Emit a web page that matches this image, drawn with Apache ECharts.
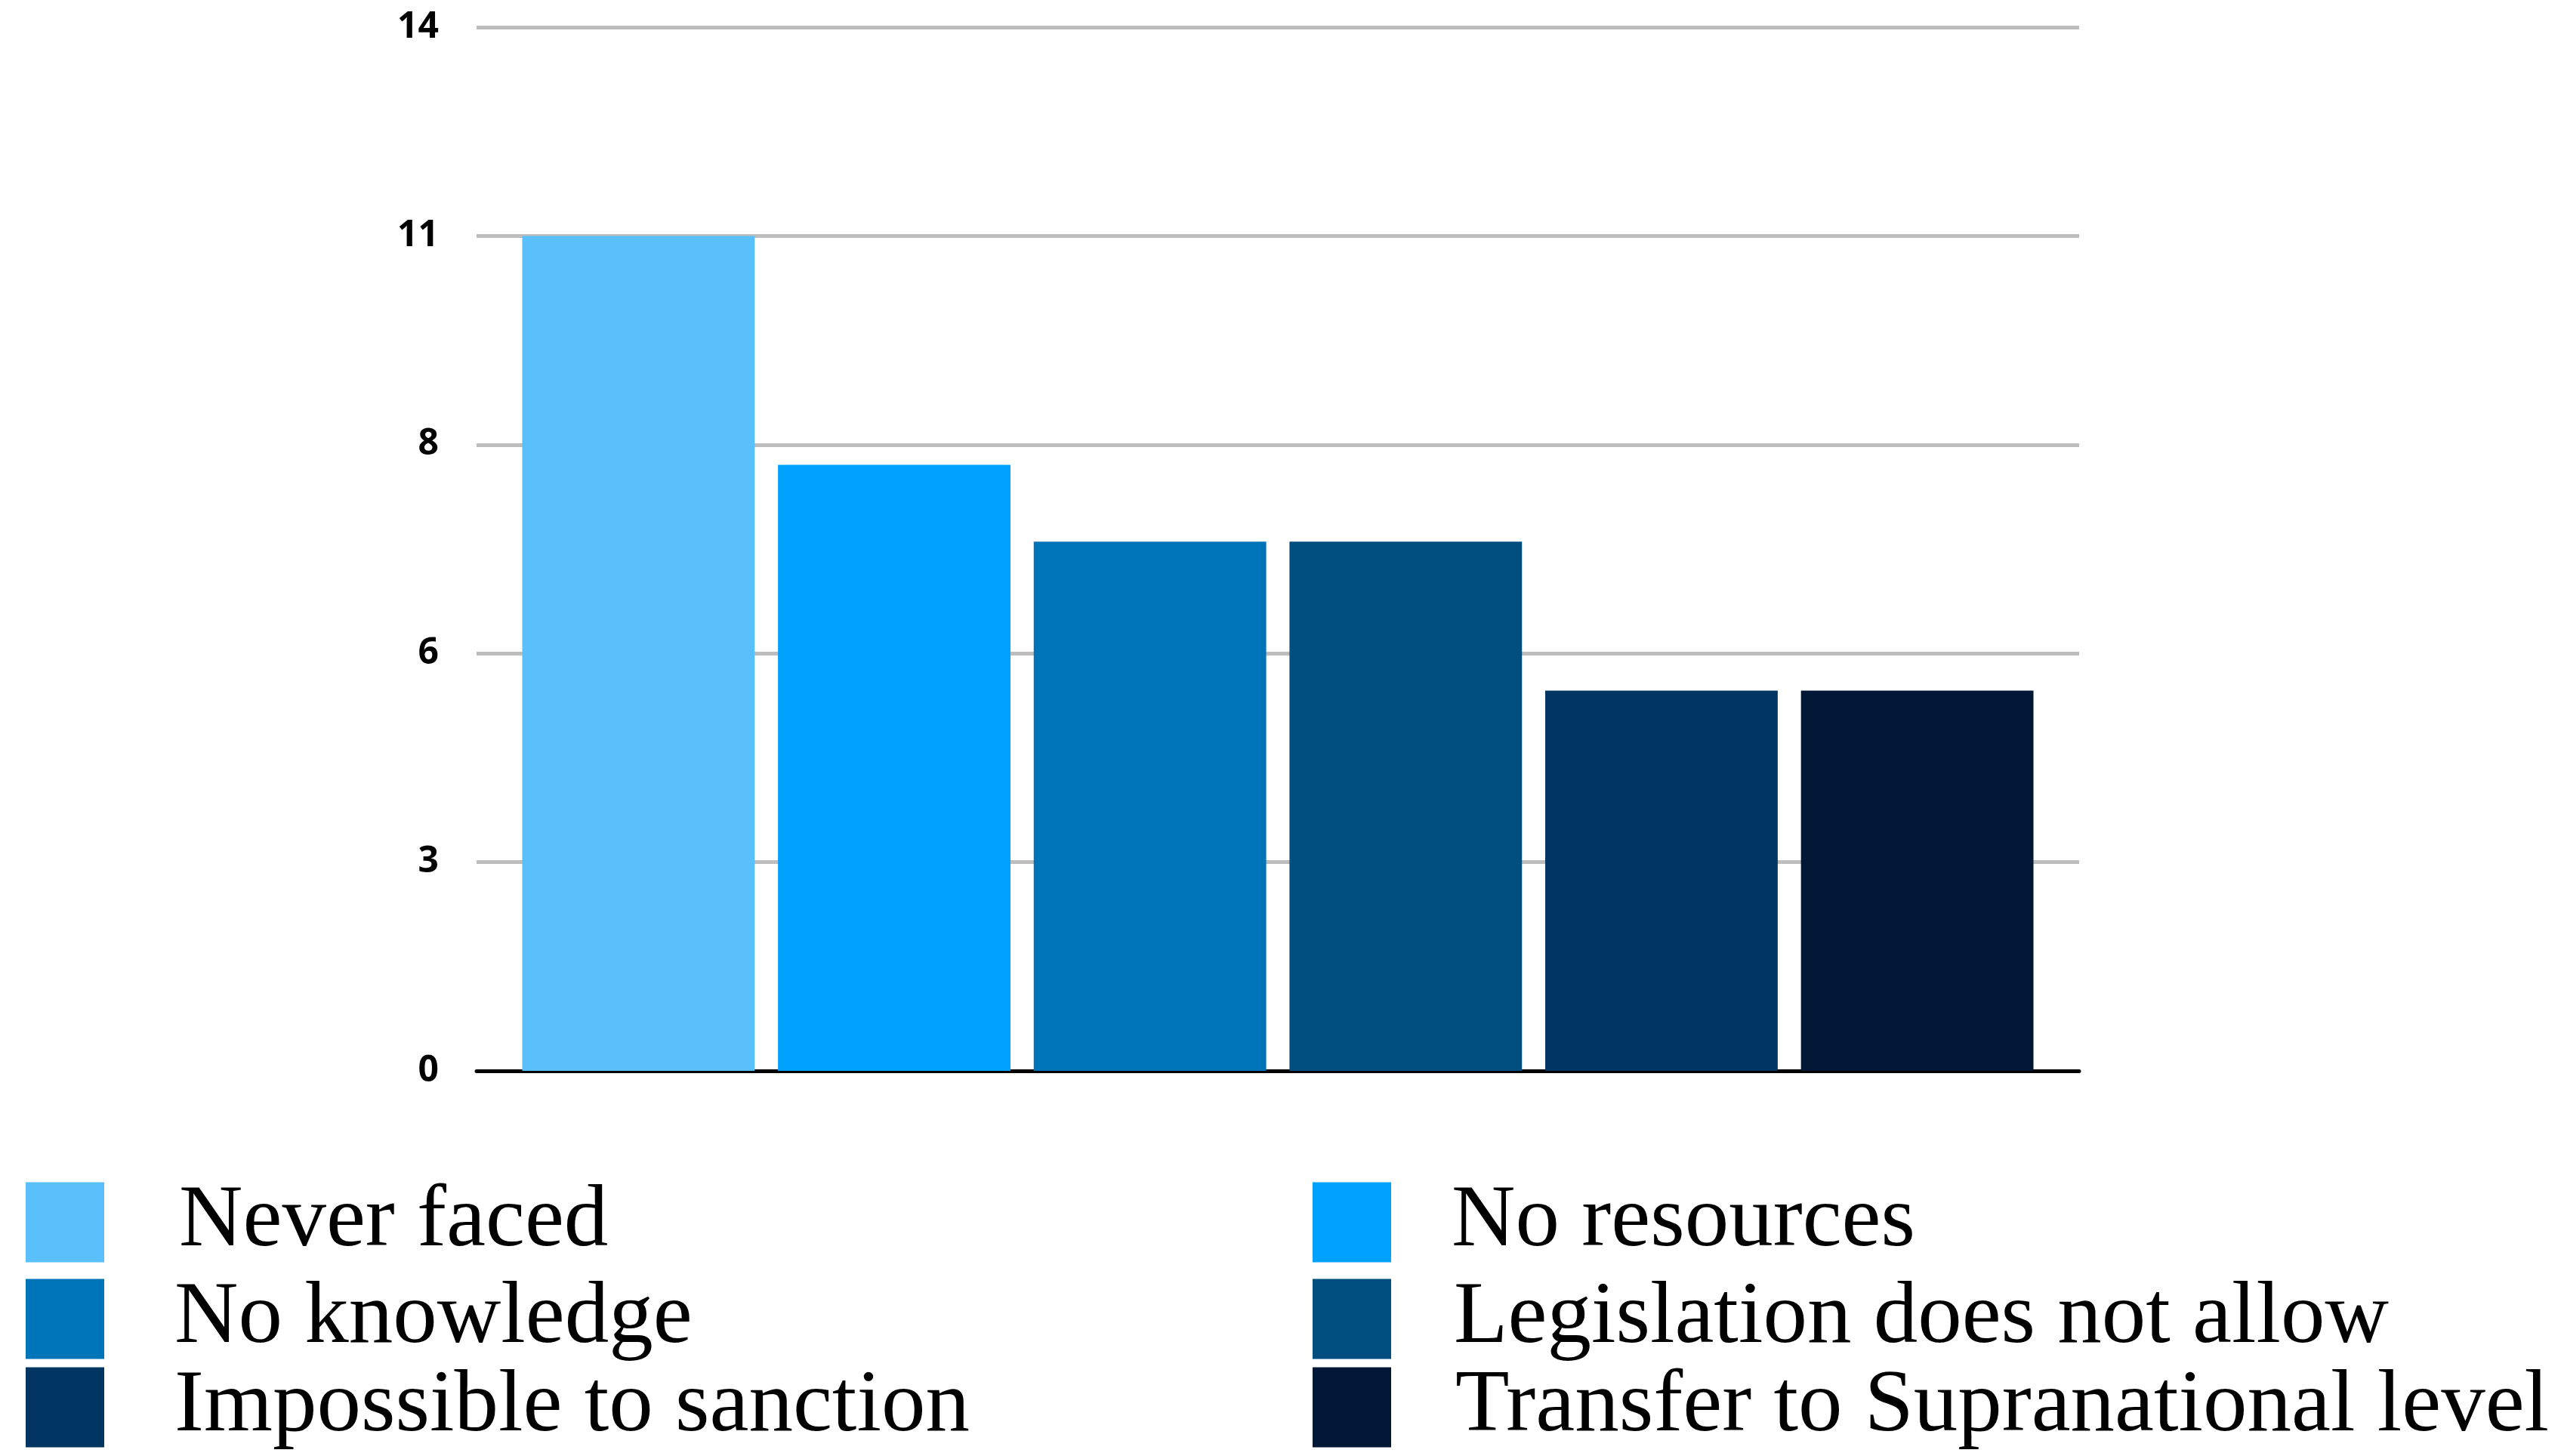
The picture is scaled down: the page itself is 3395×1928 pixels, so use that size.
<!DOCTYPE html>
<html>
<head>
<meta charset="utf-8">
<script src="https://cdn.jsdelivr.net/npm/echarts@6/dist/echarts.min.js"></script>
<style>
html,body{margin:0;padding:0;background:#fff;}
#chart{width:3395px;height:1928px;}
</style>
</head>
<body>
<div id="chart"></div>
<script>
const seriesNames = ['Never faced','No resources','No knowledge','Legislation does not allow','Impossible to sanction','Transfer to Supranational level'];
const seriesValues = [11.2, 8.13, 7.1, 7.1, 5.1, 5.1];
const seriesColors = ['#5AC0FC','#00A2FF','#0074B8','#004E80','#003461','#001835'];
const yTickLabels = ['0','3','6','8','11','14'];
const categories = [''];

const chart = echarts.init(document.getElementById('chart'), null, {renderer:'canvas'});

const legendPos = [
  {left:34, top:1560, pad:[20,0,0,94]},
  {left:1738, top:1560, pad:[20,0,0,75]},
  {left:34, top:1688, pad:[0,0,0,88]},
  {left:1738, top:1688, pad:[0,0,0,78]},
  {left:34, top:1805, pad:[18,0,0,88]},
  {left:1738, top:1805, pad:[18,0,0,80]}
];

const option = {
  animation:false,
  backgroundColor:'#ffffff',
  grid:{left:631, right:642, top:36, bottom:510, containLabel:false},
  xAxis:{
    type:'category', data:categories,
    axisLine:{show:true, lineStyle:{color:'#000', width:5}},
    axisTick:{show:false}, axisLabel:{show:false}
  },
  yAxis:{
    type:'value', min:0, max:14, interval:2.8,
    axisLine:{show:false}, axisTick:{show:false},
    axisLabel:{
      margin:50, color:'#000', fontFamily:'Open Sans', fontWeight:'bold', fontSize:48,
      formatter:(v, i)=>yTickLabels[i]
    },
    splitLine:{lineStyle:{color:'#BDBDBD', width:5}}
  },
  legend: seriesNames.map((n, i)=>({
    data:[n], left:legendPos[i].left, top:legendPos[i].top,
    orient:'horizontal', padding:0, selectedMode:false,
    icon:'rect', itemWidth:104, itemHeight:106,
    textStyle:{fontFamily:'Liberation Serif', fontSize:117, color:'#000', padding:legendPos[i].pad}
  })),
  series: seriesNames.map((n, i)=>({
    name:n, type:'bar', data:[seriesValues[i]],
    itemStyle:{color:seriesColors[i]},
    barGap:'10%', barCategoryGap:'5.7%'
  }))
};
chart.setOption(option);
</script>
</body>
</html>
